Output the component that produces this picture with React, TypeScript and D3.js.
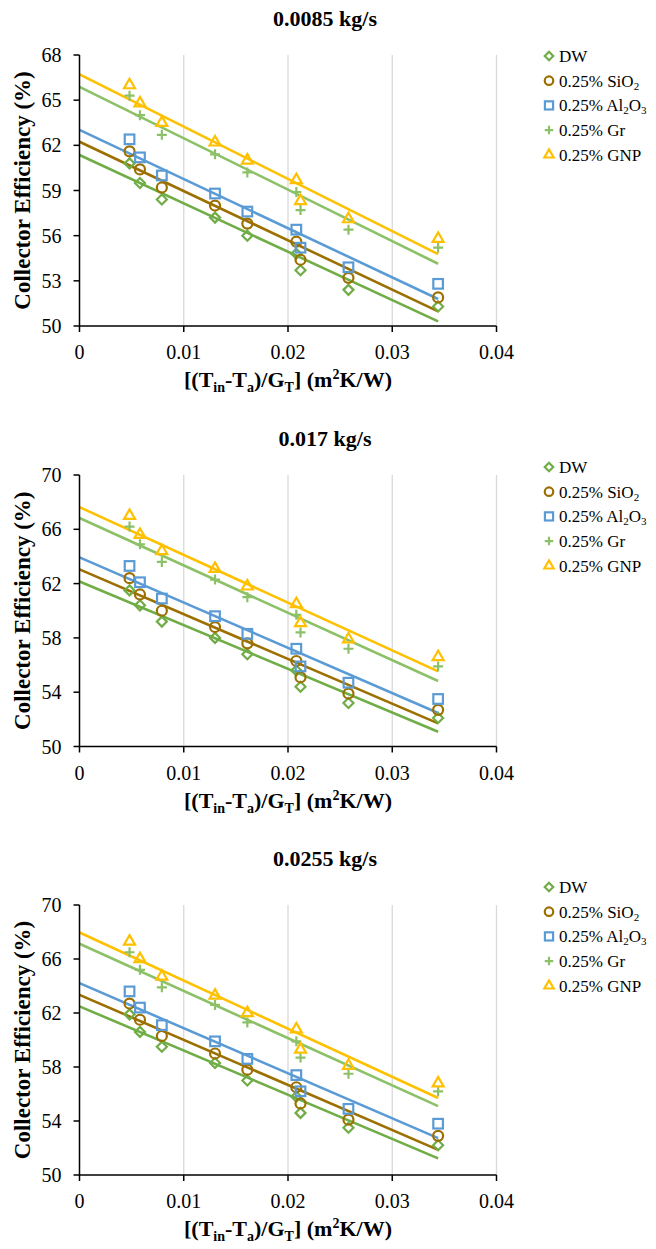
import React from 'react';
import * as d3 from 'd3';

// ---- data ----
const xValues = [0.0048, 0.0058, 0.0079, 0.013, 0.0161, 0.0208, 0.0212, 0.0258, 0.0344];

const seriesKeys = ['DW', 'SiO2', 'Al2O3', 'Gr', 'GNP'];
const seriesColors = ['#70AD47', '#9C7000', '#5B9BD5', '#8CC168', '#FFC000'];
const seriesMarkers = ['diamond', 'circle', 'square', 'plus', 'triangle'];

// panel 1: 0.0085 kg/s
const p1DW = [60.8, 59.5, 58.4, 57.2, 56.0, 54.8, 53.7, 52.4, 51.3];
const p1SiO2 = [61.6, 60.4, 59.2, 58.0, 56.8, 55.6, 54.4, 53.2, 51.9];
const p1Al2O3 = [62.4, 61.2, 60.0, 58.8, 57.6, 56.4, 55.2, 53.9, 52.8];
const p1Gr = [65.3, 64.0, 62.7, 61.4, 60.2, 58.9, 57.7, 56.4, 55.2];
const p1GNP = [66.0, 64.8, 63.5, 62.2, 61.0, 59.7, 58.3, 57.1, 55.8];

// panel 2: 0.017 kg/s
const p2DW = [61.5, 60.4, 59.2, 58.0, 56.8, 55.6, 54.4, 53.2, 52.1];
const p2SiO2 = [62.4, 61.2, 60.0, 58.8, 57.6, 56.3, 55.1, 53.9, 52.7];
const p2Al2O3 = [63.3, 62.1, 60.9, 59.6, 58.3, 57.2, 55.9, 54.7, 53.5];
const p2Gr = [66.2, 64.9, 63.6, 62.3, 61.0, 59.7, 58.4, 57.2, 55.9];
const p2GNP = [67.0, 65.6, 64.4, 63.1, 61.8, 60.5, 59.1, 57.9, 56.6];

// panel 3: 0.0255 kg/s
const p3DW = [61.9, 60.6, 59.5, 58.3, 57.0, 55.8, 54.6, 53.5, 52.2];
const p3SiO2 = [62.7, 61.5, 60.3, 59.0, 57.8, 56.5, 55.3, 54.1, 52.9];
const p3Al2O3 = [63.6, 62.4, 61.1, 59.9, 58.6, 57.4, 56.2, 54.9, 53.8];
const p3Gr = [66.5, 65.2, 63.9, 62.6, 61.3, 59.9, 58.7, 57.5, 56.2];
const p3GNP = [67.3, 66.0, 64.7, 63.3, 62.0, 60.8, 59.3, 58.1, 56.8];

const xTicks = [0, 0.01, 0.02, 0.03, 0.04];
const yTicks1 = [50, 53, 56, 59, 62, 65, 68];
const yTicks2 = [50, 54, 58, 62, 66, 70];
const yTicks3 = [50, 54, 58, 62, 66, 70];

const panelTitles = ['0.0085 kg/s', '0.017 kg/s', '0.0255 kg/s'];

// legend labels: [main, subscript, main, subscript]
const legendLabels: [string, string][][] = [
  [['DW', '']],
  [['0.25% SiO', '2']],
  [['0.25% Al', '2'], ['O', '3']],
  [['0.25% Gr', '']],
  [['0.25% GNP', '']],
];

// ---- layout ----
const W = 656;
const H = 1249;
const X0 = 79.5;
const X1 = 496.5;
const FONT = '"Liberation Serif", "Times New Roman", serif';

const panels = [
  { top: 55, bottom: 326, yTicks: yTicks1, titleY: 26, legendY: 56, series: [p1DW, p1SiO2, p1Al2O3, p1Gr, p1GNP] },
  { top: 475, bottom: 746.5, yTicks: yTicks2, titleY: 446, legendY: 467, series: [p2DW, p2SiO2, p2Al2O3, p2Gr, p2GNP] },
  { top: 905, bottom: 1175, yTicks: yTicks3, titleY: 866, legendY: 887, series: [p3DW, p3SiO2, p3Al2O3, p3Gr, p3GNP] },
];

function linReg(xs: number[], ys: number[]) {
  const mx = d3.mean(xs)!;
  const my = d3.mean(ys)!;
  let sxy = 0, sxx = 0;
  xs.forEach((x, i) => { sxy += (x - mx) * (ys[i] - my); sxx += (x - mx) * (x - mx); });
  const slope = sxy / sxx;
  return { slope, intercept: my - slope * mx };
}

function Marker({ type, x, y, color, s = 1 }: { type: string; x: number; y: number; color: string; s?: number }) {
  const sw = 2.2;
  if (type === 'circle') return <circle cx={x} cy={y} r={5 * s} fill="none" stroke={color} strokeWidth={sw} />;
  if (type === 'square') return <rect x={x - 4.8 * s} y={y - 4.8 * s} width={9.6 * s} height={9.6 * s} fill="none" stroke={color} strokeWidth={sw} />;
  if (type === 'diamond') {
    const r = 5 * s;
    return <path d={`M${x},${y - r}L${x + r},${y}L${x},${y + r}L${x - r},${y}Z`} fill="none" stroke={color} strokeWidth={sw} />;
  }
  if (type === 'plus') {
    const r = 5 * s;
    return <path d={`M${x - r},${y}H${x + r}M${x},${y - r}V${y + r}`} fill="none" stroke={color} strokeWidth={sw} />;
  }
  const tri = d3.symbol().type(d3.symbolTriangle).size(52 * s * s)() as string;
  return <path d={tri} transform={`translate(${x},${y})`} fill="none" stroke={color} strokeWidth={sw} strokeLinejoin="miter" />;
}

function Panel({ p, idx }: { p: typeof panels[number]; idx: number }) {
  const x = d3.scaleLinear().domain([0, 0.04]).range([X0, X1]);
  const yMin = d3.min(p.yTicks)!;
  const yMax = d3.max(p.yTicks)!;
  const y = d3.scaleLinear().domain([yMin, yMax]).range([p.bottom, p.top]);
  const line = d3.line<[number, number]>().x(d => x(d[0])).y(d => y(d[1]));
  const xLast = xValues[xValues.length - 1];
  const midY = (p.top + p.bottom) / 2;
  return (
    <g>
      <text x={325} y={p.titleY} textAnchor="middle" fontFamily={FONT} fontWeight="bold" fontSize={22}>{panelTitles[idx]}</text>
      {xTicks.filter(t => t > 0).map(t => (
        <line key={t} x1={x(t)} x2={x(t)} y1={p.top} y2={p.bottom} stroke="#D9D9D9" strokeWidth={1.3} />
      ))}
      {p.series.map((ys, i) => {
        const { slope, intercept } = linReg(xValues, ys);
        return <path key={'l' + i} d={line([[0, intercept], [xLast, intercept + slope * xLast]]) as string} stroke={seriesColors[i]} strokeWidth={2.6} fill="none" />;
      })}
      {p.series.map((ys, i) => (
        <g key={'m' + i}>
          {ys.map((v, j) => <Marker key={j} type={seriesMarkers[i]} x={x(xValues[j])} y={y(v)} color={seriesColors[i]} />)}
        </g>
      ))}
      {/* axes */}
      <line x1={X0} x2={X0} y1={p.top} y2={p.bottom} stroke="#000" strokeWidth={1.5} />
      <line x1={X0} x2={X1} y1={p.bottom} y2={p.bottom} stroke="#000" strokeWidth={1.5} />
      {p.yTicks.map(t => (
        <g key={'yt' + t}>
          <line x1={X0 - 6} x2={X0} y1={y(t)} y2={y(t)} stroke="#000" strokeWidth={1.5} />
          <text x={X0 - 18} y={y(t) + 7} textAnchor="end" fontFamily={FONT} fontSize={20}>{t}</text>
        </g>
      ))}
      {xTicks.map(t => (
        <g key={'xt' + t}>
          <line x1={x(t)} x2={x(t)} y1={p.bottom} y2={p.bottom + 6} stroke="#000" strokeWidth={1.5} />
          <text x={x(t)} y={p.bottom + 33} textAnchor="middle" fontFamily={FONT} fontSize={20}>{t}</text>
        </g>
      ))}
      <text transform={`translate(30,${midY}) rotate(-90)`} textAnchor="middle" fontFamily={FONT} fontWeight="bold" fontSize={23}>Collector Efficiency (%)</text>
      <text x={(X0 + X1) / 2} y={p.bottom + 61} textAnchor="middle" fontFamily={FONT} fontWeight="bold" fontSize={22}>
        <tspan>[(T</tspan>
        <tspan fontSize={14} dy={5}>in</tspan>
        <tspan dy={-5}>-T</tspan>
        <tspan fontSize={14} dy={5}>a</tspan>
        <tspan dy={-5}>)/G</tspan>
        <tspan fontSize={14} dy={5}>T</tspan>
        <tspan dy={-5}>] (m</tspan>
        <tspan fontSize={14} dy={-8}>2</tspan>
        <tspan dy={8}>K/W)</tspan>
      </text>
      {/* legend */}
      {seriesKeys.map((k, i) => {
        const ly = p.legendY + i * 24.7;
        return (
          <g key={'lg' + k}>
            <Marker type={seriesMarkers[i]} x={549} y={ly} color={seriesColors[i]} s={0.85} />
            <text x={559} y={ly + 6} fontFamily={FONT} fontSize={17}>
              {legendLabels[i].map((part, pi) => (
                <React.Fragment key={pi}>
                  <tspan dy={pi > 0 ? -3 : 0}>{part[0]}</tspan>
                  {part[1] ? <tspan fontSize={11} dy={3}>{part[1]}</tspan> : null}
                </React.Fragment>
              ))}
            </text>
          </g>
        );
      })}
    </g>
  );
}

export default function App() {
  return (
    <svg width={W} height={H} style={{ position: 'absolute', left: 0, top: 0, background: '#fff' }}>
      <rect width={W} height={H} fill="#fff" />
      {panels.map((p, i) => <Panel key={i} p={p} idx={i} />)}
    </svg>
  );
}
